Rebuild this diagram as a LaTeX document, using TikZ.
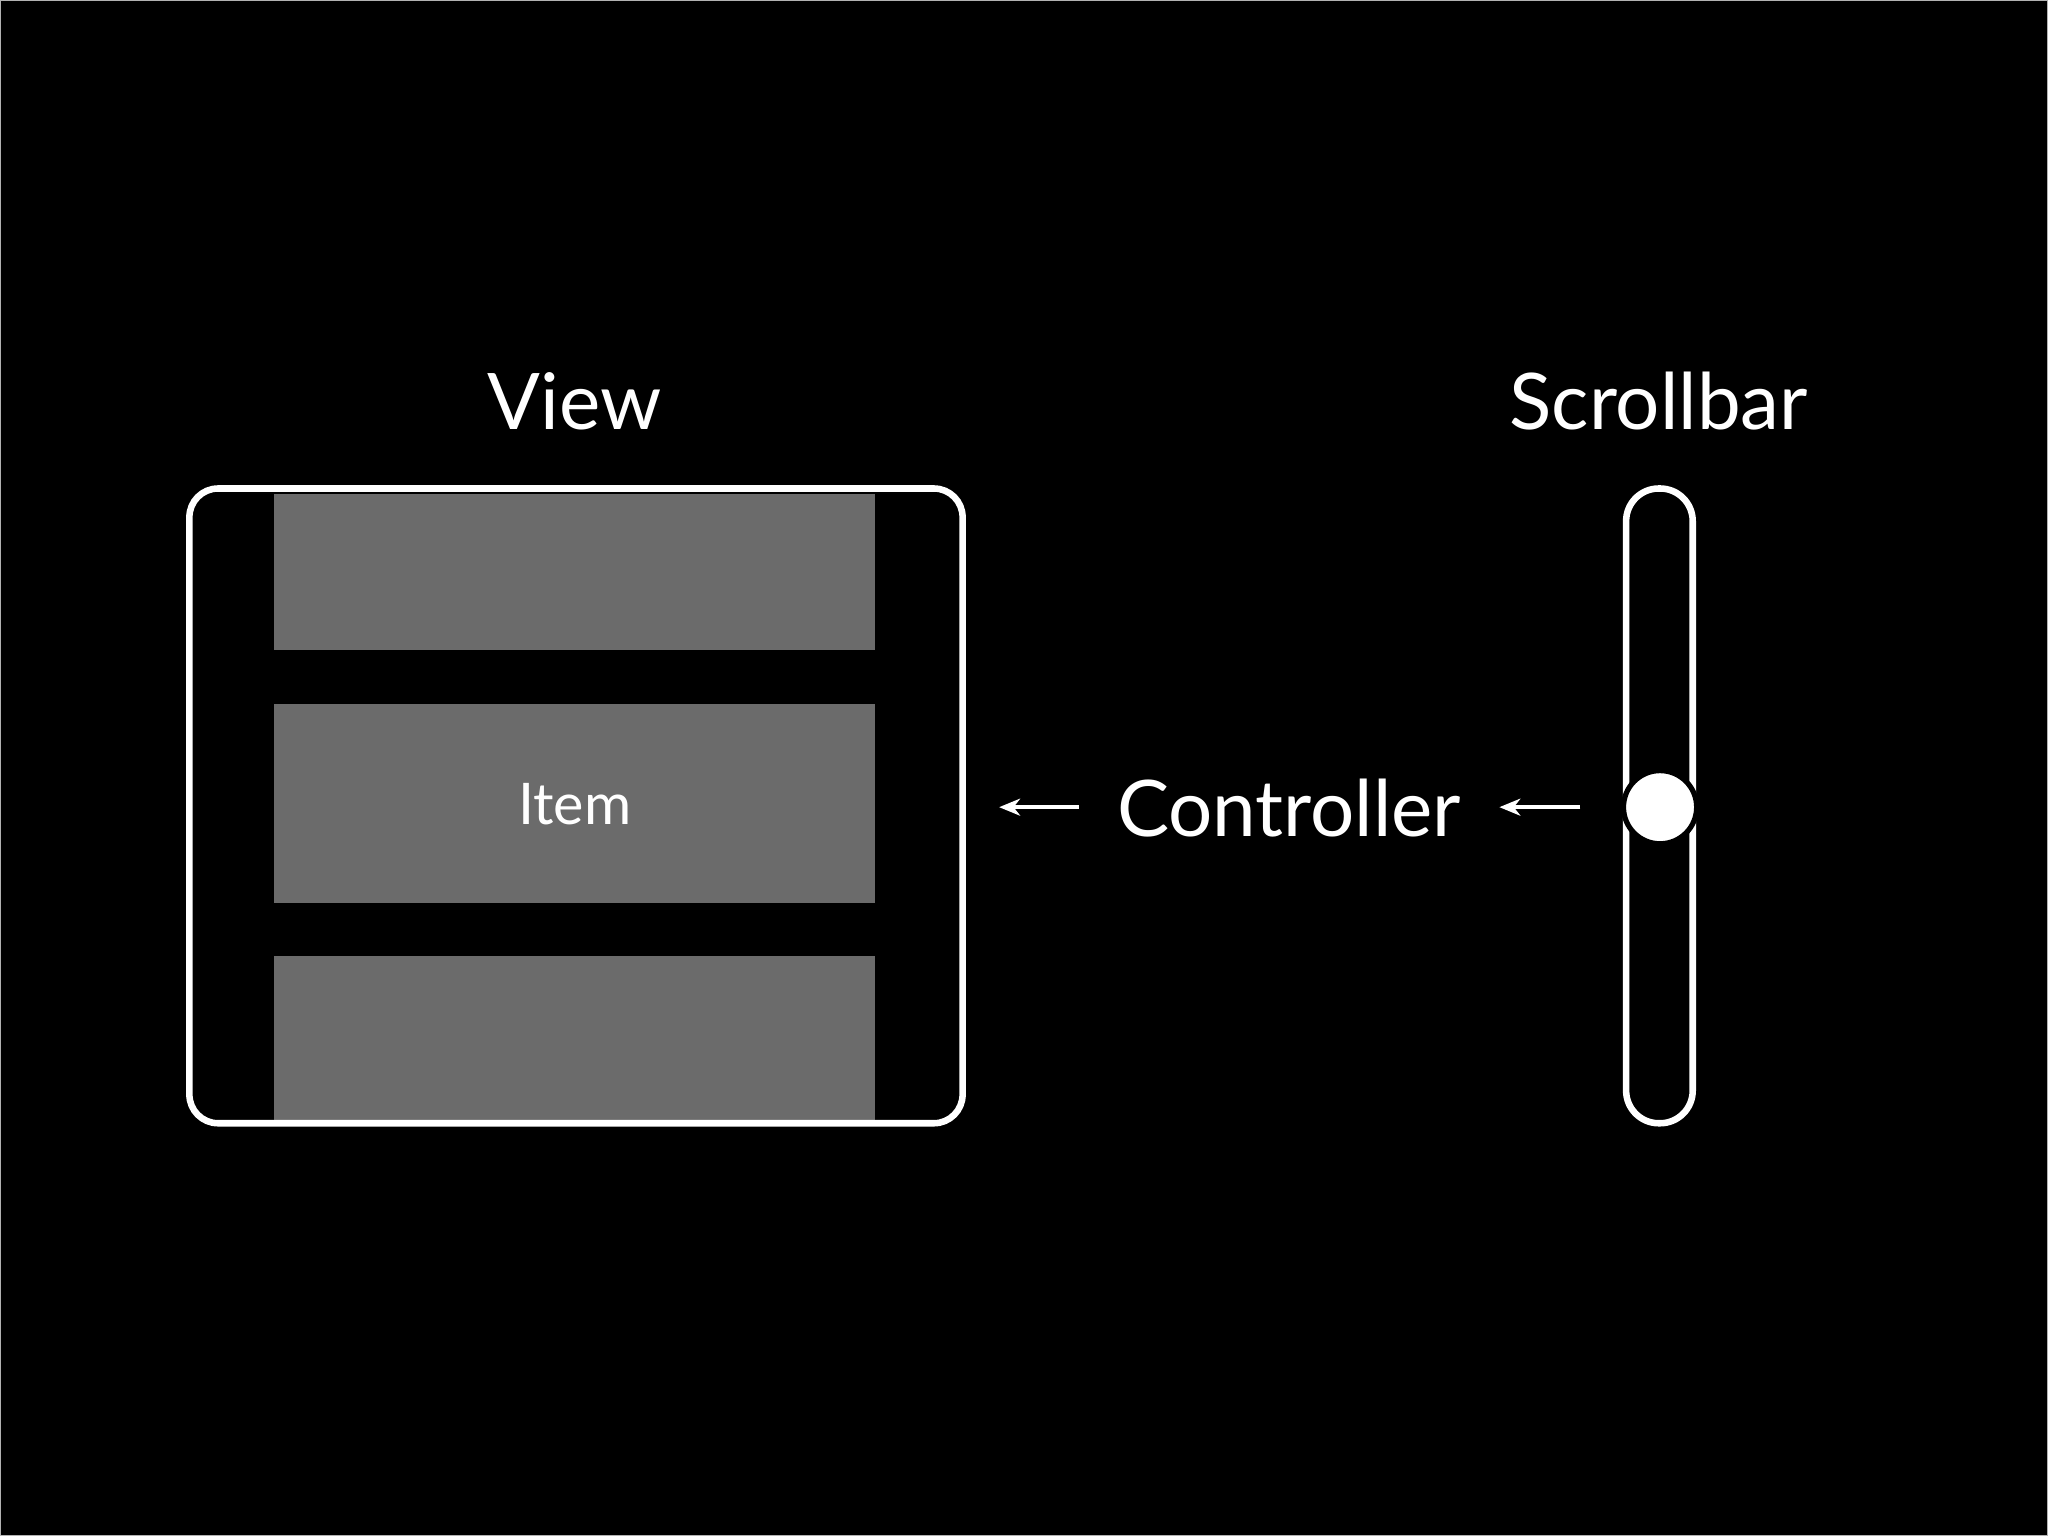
\documentclass[tikz,border=0pt]{standalone}
\usepackage{fontspec}
\setmainfont{Lato}
\usetikzlibrary{arrows.meta}
\definecolor{itemgray}{HTML}{6B6B6B}
\tikzset{
  frame/.style={draw=white,line width=0.05cm,rounded corners=0.22cm},
  itembox/.style={fill=itemgray},
  bigtext/.style={text=white,font=\fontsize{17}{20}\selectfont},
  arr/.style={draw=white,line width=0.03cm,-{Stealth[length=0.16cm,width=0.13cm,inset=0.05cm]}}
}
\begin{document}
\begin{tikzpicture}[x=0.01cm,y=-0.01cm]
\useasboundingbox (0,0) rectangle (1568,1176);
\fill[black] (0,0) rectangle (1568,1176);
\draw[gray!60,line width=0.01cm] (0.5,0.5) rectangle (1567.5,1175.5);
\node[bigtext] (viewlbl) at (440,307) {View};
\node[bigtext] (scrolllbl) at (1270,307) {Scrollbar};
\fill[itembox] (210,378) rectangle (670,498);
\fill[itembox] (210,539) rectangle (670,691);
\fill[itembox] (210,732) rectangle (670,858);
\draw[frame] (145,374) rectangle (737,860);
\node[text=white,font=\fontsize{12.5}{15}\selectfont] (item) at (440,616) {Item};
\coordinate (viewr) at (765,618);
\node[bigtext] (ctrl) at (987,619) {Controller};
\draw[frame,rounded corners=0.25cm] (1245,374) rectangle (1296,860);
\node[circle,fill=white,draw=black,line width=0.04cm,minimum size=0.56cm,inner sep=0] (knob) at (1271,618) {};
\coordinate (a1s) at (826,618);
\coordinate (a2s) at (1210,618);
\coordinate (a2e) at (1148,618);
\draw[arr] (a1s) -- (viewr);
\draw[arr] (a2s) -- (a2e);
\end{tikzpicture}
\end{document}
